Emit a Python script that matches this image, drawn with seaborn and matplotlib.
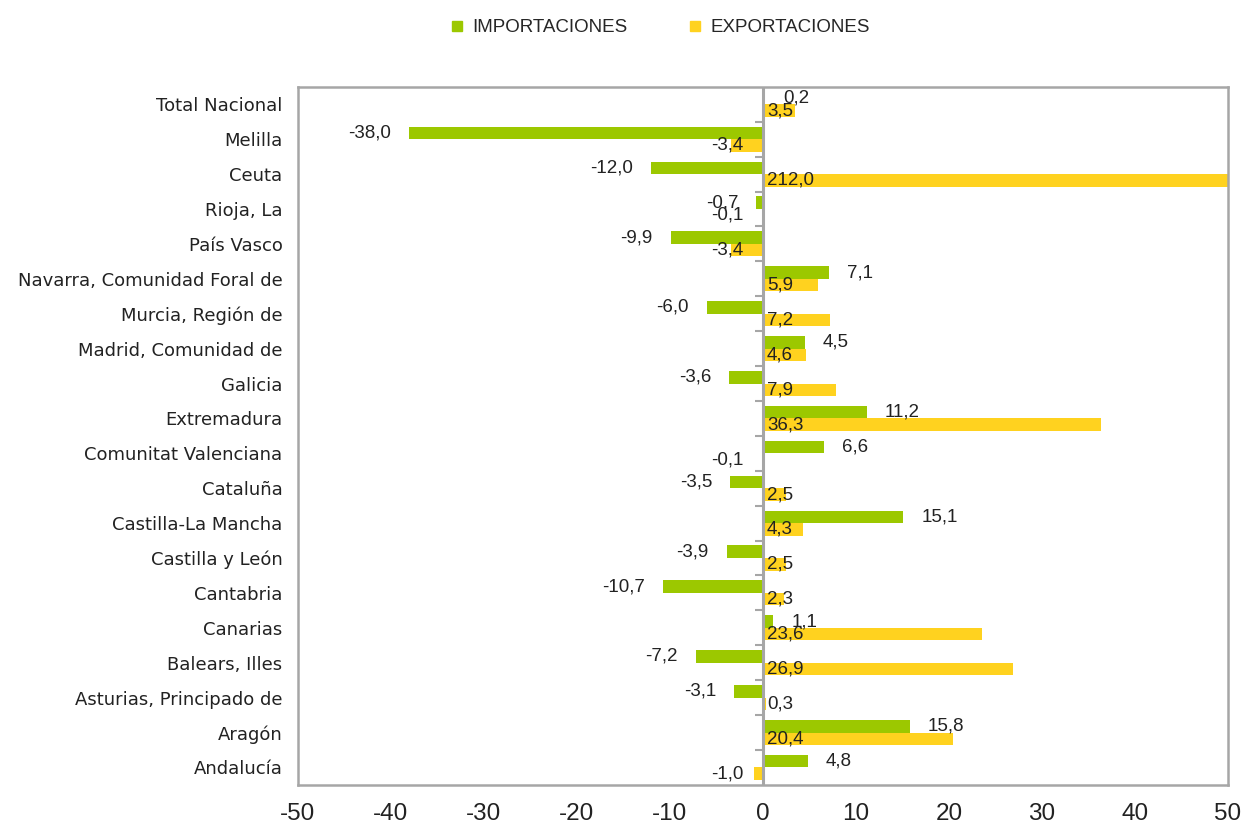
import pandas as pd
import numpy as np
import matplotlib
matplotlib.use("Agg")
import matplotlib.pyplot as plt
import seaborn as sns
from matplotlib.lines import Line2D

# Datos (tasa de variación, %)
comunidades = ["Total Nacional", "Melilla", "Ceuta", "Rioja, La", "País Vasco",
               "Navarra, Comunidad Foral de", "Murcia, Región de", "Madrid, Comunidad de",
               "Galicia", "Extremadura", "Comunitat Valenciana", "Cataluña",
               "Castilla-La Mancha", "Castilla y León", "Cantabria", "Canarias",
               "Balears, Illes", "Asturias, Principado de", "Aragón", "Andalucía"]
importaciones = [0.2, -38.0, -12.0, -0.7, -9.9, 7.1, -6.0, 4.5, -3.6, 11.2,
                 6.6, -3.5, 15.1, -3.9, -10.7, 1.1, -7.2, -3.1, 15.8, 4.8]
exportaciones = [3.5, -3.4, 212.0, -0.1, -3.4, 5.9, 7.2, 4.6, 7.9, 36.3,
                 -0.1, 2.5, 4.3, 2.5, 2.3, 23.6, 26.9, 0.3, 20.4, -1.0]
series = ["IMPORTACIONES", "EXPORTACIONES"]
colores = ["#9CC800", "#FFD21F"]
xticks = list(range(-50, 51, 10))

df = pd.DataFrame({
    "comunidad": comunidades * 2,
    "serie": [series[0]] * len(comunidades) + [series[1]] * len(comunidades),
    "valor": importaciones + exportaciones,
})

sns.set_style("white")
plt.rcParams["font.family"] = ["DejaVu Sans"]
gris = "#A6A6A6"

fig = plt.figure(figsize=(12.46, 8.35), dpi=100)
ax = fig.add_axes([0.239, 0.060, 0.7465, 0.836])

sns.barplot(data=df, y="comunidad", x="valor", hue="serie", order=comunidades,
            hue_order=series, palette=colores, orient="h", width=0.72, gap=0,
            dodge=True, legend=False, ax=ax, saturation=1, linewidth=0)

n = len(comunidades)
ax.set_xlim(-50, 50)
ax.set_ylim(n - 0.5, -0.5)
ax.set_xticks(xticks)
ax.set_xticklabels([str(t) for t in xticks], fontsize=17.5, family="Liberation Sans",
                   color="#222222")
ax.tick_params(axis="x", direction="out", length=6, width=1.2, color=gris, pad=7)
ax.tick_params(axis="y", length=0, pad=11)
for lbl in ax.get_yticklabels():
    lbl.set_fontsize(13)
    lbl.set_color("#222222")
ax.set_xlabel("")
ax.set_ylabel("")
for sp in ax.spines.values():
    sp.set_visible(True)
    sp.set_color(gris)
    sp.set_linewidth(1.8)

# linea del cero y marcas entre categorias
ax.axvline(0, color=gris, lw=2.2, zorder=1)
ax.hlines(np.arange(n - 1) + 0.5, -0.8, 0, color=gris, lw=1.5, zorder=1)

# etiquetas de datos
def fmt(v):
    return f"{v:.1f}".replace(".", ",")

txt_kw = dict(fontsize=13.5, family="Liberation Sans", color="#222222",
              va="center", textcoords="offset points")
for cont, vals, name in zip(ax.containers, [importaciones, exportaciones], series):
    for patch, v in zip(cont.patches, vals):
        yc = patch.get_y() + patch.get_height() / 2
        if name == "IMPORTACIONES":
            xs = v
            off = 13 if v >= 0 else -13
        else:
            xs = 0
            off = 3 if v >= 0 else -14
        ax.annotate(fmt(v), (xs, yc), xytext=(off, 0),
                    ha="left" if v >= 0 else "right", **txt_kw)

# leyenda
handles = [Line2D([], [], marker="s", ls="", color=c, markersize=7) for c in colores]
fig.legend(handles, series, loc="center", bbox_to_anchor=(0.525, 0.967), ncol=2,
           frameon=False, handletextpad=-0.2, columnspacing=2.6,
           prop={"family": "Liberation Sans", "size": 13.5})

fig.savefig("out.png", dpi=100)
